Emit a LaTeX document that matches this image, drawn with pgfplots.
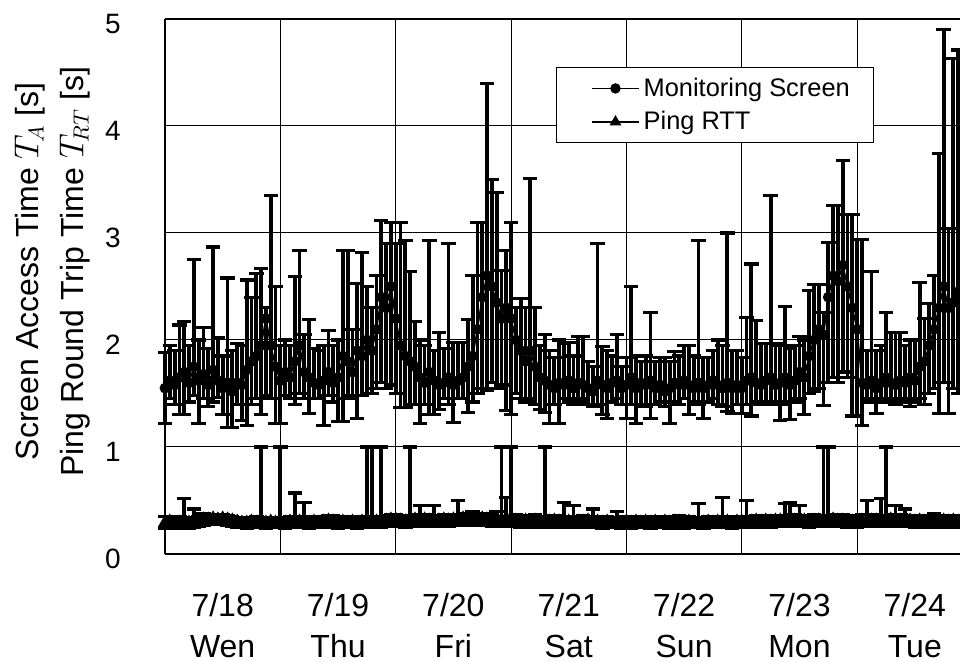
\documentclass[border=0pt]{standalone}
\usepackage{fontspec}
\setmainfont{Liberation Sans}
\usepackage{pgfplots}
\usepackage{pgfplotstable}
\pgfplotsset{compat=1.18}

\pgfplotstableread{
h y lo hi
0 1.55 1.22 1.88
1 1.62 1.45 1.95
2 1.58 1.40 1.90
3 1.65 1.30 2.14
4 1.70 1.30 2.17
5 1.60 1.42 1.95
6 1.75 1.48 2.75
7 1.62 1.22 2.00
8 1.68 1.45 2.12
9 1.58 1.38 1.92
10 1.72 1.42 2.87
11 1.62 1.46 2.02
12 1.55 1.30 1.85
13 1.60 1.18 2.58
14 1.52 1.18 1.90
15 1.60 1.40 1.97
16 1.58 1.25 1.95
17 1.72 1.20 2.56
18 1.80 1.40 2.40
19 1.85 1.45 2.62
20 1.95 1.30 2.67
21 2.20 1.48 2.30
22 1.95 1.45 3.35
23 1.75 1.22 2.50
24 1.62 1.22 1.95
25 1.70 1.48 2.00
26 1.65 1.45 1.95
27 1.80 1.40 2.59
28 1.95 1.50 2.84
29 1.70 1.45 2.05
30 1.65 1.31 2.19
31 1.60 1.45 1.92
32 1.58 1.45 1.90
33 1.62 1.20 1.95
34 1.70 1.48 2.09
35 1.60 1.42 1.95
36 1.65 1.24 2.00
37 1.85 1.24 2.84
38 1.80 1.45 2.84
39 1.70 1.48 2.10
40 1.90 1.27 2.53
41 1.85 1.48 2.82
42 2.00 1.50 2.50
43 1.90 1.50 2.30
44 2.10 1.55 2.60
45 2.40 1.60 3.12
46 2.30 1.55 2.90
47 2.50 1.58 3.10
48 2.20 1.50 2.90
49 1.95 1.37 3.10
50 1.85 1.37 2.93
51 1.80 1.40 2.64
52 1.75 1.40 2.17
53 1.65 1.22 2.00
54 1.60 1.40 1.95
55 1.70 1.30 2.93
56 1.62 1.30 1.90
57 1.58 1.35 2.07
58 1.60 1.45 1.92
59 1.65 1.40 2.90
60 1.58 1.23 1.98
61 1.62 1.45 1.98
62 1.65 1.45 1.98
63 1.75 1.32 2.19
64 1.85 1.42 2.60
65 2.10 1.50 3.10
66 2.40 1.55 3.10
67 2.60 1.53 4.40
68 2.50 1.60 3.50
69 2.35 1.55 3.38
70 2.20 1.58 2.65
71 2.30 1.34 2.84
72 2.20 1.30 3.10
73 2.00 1.50 2.30
74 1.90 1.45 2.39
75 1.80 1.42 2.30
76 1.90 1.45 3.51
77 1.75 1.40 2.30
78 1.65 1.35 1.95
79 1.62 1.32 2.05
80 1.58 1.22 1.90
81 1.55 1.40 1.84
82 1.60 1.22 2.00
83 1.58 1.45 1.97
84 1.62 1.42 1.98
85 1.55 1.40 1.85
86 1.60 1.45 2.03
87 1.58 1.42 2.03
88 1.55 1.40 1.80
89 1.52 1.38 1.75
90 1.62 1.40 2.90
91 1.58 1.30 1.94
92 1.55 1.27 1.90
93 1.60 1.42 1.85
94 1.62 1.45 2.05
95 1.55 1.40 1.75
96 1.58 1.27 1.84
97 1.65 1.40 2.50
98 1.55 1.22 1.85
99 1.60 1.40 1.80
100 1.58 1.38 1.85
101 1.62 1.27 2.26
102 1.55 1.40 1.80
103 1.58 1.42 1.84
104 1.52 1.38 1.84
105 1.55 1.22 1.80
106 1.60 1.42 1.89
107 1.58 1.40 1.85
108 1.62 1.45 1.95
109 1.58 1.30 1.95
110 1.55 1.42 1.85
111 1.60 1.40 2.93
112 1.55 1.27 1.84
113 1.58 1.42 1.84
114 1.62 1.45 1.90
115 1.58 1.40 2.00
116 1.55 1.38 1.95
117 1.60 1.33 3.00
118 1.55 1.31 1.90
119 1.58 1.40 1.90
120 1.55 1.31 1.84
121 1.62 1.40 2.21
122 1.65 1.29 2.71
123 1.60 1.42 2.18
124 1.58 1.40 1.97
125 1.62 1.42 1.97
126 1.65 1.40 3.35
127 1.58 1.42 1.97
128 1.60 1.25 1.95
129 1.65 1.40 2.31
130 1.58 1.26 1.92
131 1.62 1.42 1.95
132 1.70 1.45 2.03
133 1.65 1.30 2.00
134 1.85 1.50 2.46
135 2.00 1.52 2.52
136 2.10 1.55 2.52
137 2.05 1.39 2.26
138 2.40 1.60 2.91
139 2.60 1.65 3.26
140 2.55 1.60 3.26
141 2.70 1.70 3.68
142 2.50 1.65 3.17
143 2.30 1.29 3.17
144 2.10 1.29 2.94
145 1.60 1.20 2.94
146 1.58 1.42 1.90
147 1.62 1.45 2.64
148 1.55 1.31 1.90
149 1.60 1.42 1.95
150 1.65 1.45 2.26
151 1.60 1.42 2.07
152 1.58 1.40 2.07
153 1.62 1.45 2.07
154 1.60 1.42 1.95
155 1.65 1.38 2.00
156 1.62 1.42 2.00
157 1.75 1.45 2.54
158 1.80 1.40 2.20
159 1.95 1.50 2.34
160 2.10 1.55 2.60
161 2.30 1.31 3.74
162 2.50 1.60 4.90
163 2.30 1.31 3.04
164 2.35 1.55 4.63
165 2.45 1.50 4.71
}\monitor

\pgfplotstableread{
h y lo hi
0 0.29 0.24 0.35
1 0.30 0.25 0.34
2 0.28 0.24 0.33
3 0.29 0.25 0.35
4 0.30 0.25 0.52
5 0.29 0.24 0.34
6 0.30 0.25 0.42
7 0.31 0.26 0.35
8 0.32 0.27 0.38
9 0.32 0.28 0.36
10 0.33 0.28 0.37
11 0.32 0.28 0.36
12 0.33 0.28 0.37
13 0.32 0.27 0.36
14 0.31 0.26 0.35
15 0.30 0.25 0.34
16 0.29 0.25 0.34
17 0.29 0.24 0.33
18 0.30 0.25 0.34
19 0.29 0.25 0.35
20 0.30 0.25 1.00
21 0.29 0.24 0.34
22 0.30 0.25 0.34
23 0.29 0.25 0.33
24 0.30 0.25 1.00
25 0.29 0.24 0.34
26 0.30 0.25 0.35
27 0.31 0.25 0.57
28 0.30 0.25 0.35
29 0.30 0.25 0.48
30 0.29 0.24 0.34
31 0.30 0.25 0.35
32 0.29 0.25 0.34
33 0.30 0.25 0.35
34 0.31 0.26 0.36
35 0.30 0.25 0.36
36 0.29 0.24 0.34
37 0.30 0.25 0.35
38 0.29 0.25 0.34
39 0.30 0.25 0.35
40 0.29 0.24 0.34
41 0.30 0.25 0.35
42 0.30 0.25 1.00
43 0.31 0.25 1.00
44 0.30 0.25 0.35
45 0.30 0.25 1.00
46 0.31 0.26 0.36
47 0.32 0.26 0.37
48 0.32 0.27 0.37
49 0.31 0.26 0.36
50 0.30 0.25 0.35
51 0.31 0.26 1.00
52 0.32 0.27 0.37
53 0.31 0.26 0.45
54 0.32 0.26 0.37
55 0.31 0.26 0.36
56 0.32 0.27 0.45
57 0.31 0.26 0.36
58 0.32 0.27 0.37
59 0.31 0.26 0.36
60 0.32 0.27 0.37
61 0.32 0.27 0.50
62 0.33 0.27 0.38
63 0.32 0.27 0.37
64 0.33 0.27 0.40
65 0.32 0.27 0.38
66 0.33 0.28 0.38
67 0.32 0.27 0.37
68 0.32 0.26 0.38
69 0.33 0.27 0.40
70 0.32 0.26 1.00
71 0.33 0.27 0.53
72 0.31 0.26 1.00
73 0.31 0.26 0.37
74 0.30 0.25 0.35
75 0.31 0.26 0.36
76 0.30 0.25 0.36
77 0.31 0.26 0.37
78 0.30 0.25 0.35
79 0.31 0.26 1.00
80 0.30 0.25 0.35
81 0.31 0.26 0.36
82 0.30 0.25 0.35
83 0.31 0.26 0.48
84 0.30 0.25 0.35
85 0.31 0.26 0.45
86 0.30 0.25 0.35
87 0.30 0.25 0.36
88 0.31 0.26 0.35
89 0.30 0.25 0.42
90 0.30 0.25 0.35
91 0.29 0.24 0.34
92 0.30 0.25 0.35
93 0.29 0.25 0.34
94 0.30 0.25 0.40
95 0.29 0.24 0.34
96 0.30 0.25 0.35
97 0.29 0.24 0.34
98 0.30 0.25 0.35
99 0.29 0.25 0.34
100 0.30 0.25 0.35
101 0.29 0.24 0.34
102 0.30 0.25 0.35
103 0.29 0.25 0.34
104 0.30 0.25 0.35
105 0.29 0.24 0.34
106 0.30 0.25 0.35
107 0.30 0.25 0.36
108 0.29 0.24 0.34
109 0.30 0.25 0.35
110 0.29 0.25 0.34
111 0.30 0.25 0.47
112 0.29 0.24 0.34
113 0.30 0.25 0.35
114 0.29 0.25 0.34
115 0.30 0.25 0.35
116 0.31 0.25 0.53
117 0.30 0.25 0.35
118 0.29 0.24 0.34
119 0.30 0.25 0.35
120 0.30 0.25 0.35
121 0.31 0.26 0.50
122 0.30 0.25 0.35
123 0.31 0.26 0.36
124 0.30 0.25 0.35
125 0.31 0.26 0.36
126 0.30 0.25 0.35
127 0.31 0.26 0.36
128 0.31 0.26 0.36
129 0.31 0.26 0.47
130 0.32 0.26 0.48
131 0.31 0.26 0.37
132 0.31 0.26 0.45
133 0.31 0.26 0.36
134 0.30 0.25 0.36
135 0.31 0.26 0.37
136 0.31 0.26 0.36
137 0.31 0.26 1.00
138 0.31 0.26 1.00
139 0.32 0.27 0.37
140 0.31 0.26 0.36
141 0.31 0.26 0.37
142 0.30 0.25 0.36
143 0.30 0.25 0.35
144 0.30 0.25 0.35
145 0.31 0.26 0.37
146 0.31 0.26 0.50
147 0.31 0.26 0.37
148 0.31 0.26 0.36
149 0.32 0.26 0.52
150 0.31 0.26 1.00
151 0.32 0.27 0.37
152 0.31 0.26 0.45
153 0.31 0.26 0.37
154 0.31 0.26 0.42
155 0.31 0.26 0.36
156 0.30 0.25 0.36
157 0.31 0.26 0.36
158 0.30 0.25 0.35
159 0.31 0.26 0.36
160 0.31 0.26 0.38
161 0.30 0.25 0.35
162 0.31 0.26 0.36
163 0.30 0.25 0.35
164 0.31 0.26 0.36
165 0.30 0.25 0.35
}\ping

\begin{document}
\begin{tikzpicture}
\begin{axis}[
  at={(0,0)}, anchor=south west,
  scale only axis, width=397.5pt, height=267.5pt,
  xmin=0, xmax=165.4, ymin=0, ymax=5,
  clip=false,
  axis x line*=box, axis y line*=left,
  axis line style={line width=0.8pt},
  ytick={0,1,2,3,4,5},
  xtick={12,36,60,84,108,132,156},
  xticklabels={{7/18\\Wen},{7/19\\Thu},{7/20\\Fri},{7/21\\Sat},{7/22\\Sun},{7/23\\Mon},{7/24\\Tue}},
  minor xtick={24,48,72,96,120,144},
  xminorgrids=true, ymajorgrids=true,
  major tick length=0pt, minor tick length=0pt,
  grid style={black, line width=0.5pt},
  minor grid style={black, line width=0.5pt},
  /pgf/number format/assume math mode=true,
  yticklabel style={font=\fontsize{14}{14}\selectfont, anchor=east, inner sep=0pt, xshift=-22pt, yshift=-2.5pt},
  xticklabel style={font=\fontsize{16}{20.5}\selectfont, align=center, anchor=north, inner sep=0pt, yshift=-19.5pt},
  every axis y label/.style={at={(axis description cs:-0.1415,0.528)}, rotate=90, anchor=center, align=center, font=\fontsize{16}{22.5}\selectfont},
  ylabel={Screen Access Time $T_{\!A}$ [s]\\Ping Round Trip Time $T_{\!RT}$ [s]},
  legend style={at={(axis description cs:0.4918,0.910)}, anchor=north west, draw=black, line width=0.6pt, fill=white,
    font=\fontsize{12.7}{14}\selectfont, inner xsep=10pt, inner ysep=3pt, row sep=2pt},
  legend cell align=left,
  legend image code/.code={\path (-7pt,0pt); \draw[black, line width=0.7pt] (0pt,0pt) -- (23.5pt,0pt); \draw[#1, line width=0.6pt] plot[only marks] coordinates {(11.75pt,0pt)};},
]
\addplot[black, line width=0.8pt, mark=*, mark size=2.3pt,
  error bars/.cd, y dir=both, y explicit,
  error mark=|,
  error bar style={line width=1.9pt},
  error mark options={line width=1.6pt, mark size=3.6pt}]
  table[x=h, y=y, y error plus expr=\thisrow{hi}-\thisrow{y}, y error minus expr=\thisrow{y}-\thisrow{lo}] {\monitor};
\addlegendentry{Monitoring Screen}
\addplot[black, line width=1.4pt, mark=triangle*, mark size=2.8pt,
  error bars/.cd, y dir=both, y explicit,
  error mark=|,
  error bar style={line width=1.9pt},
  error mark options={line width=1.6pt, mark size=3.6pt}]
  table[x=h, y=y, y error plus expr=\thisrow{hi}-\thisrow{y}, y error minus expr=\thisrow{y}-\thisrow{lo}] {\ping};
\addlegendentry{Ping RTT}
\end{axis}
\pgfresetboundingbox
\path[use as bounding box] ([shift={(-82.5pt,-54pt)}]current axis.south west) rectangle ([shift={(0pt,9.5pt)}]current axis.north east);
\end{tikzpicture}
\end{document}
